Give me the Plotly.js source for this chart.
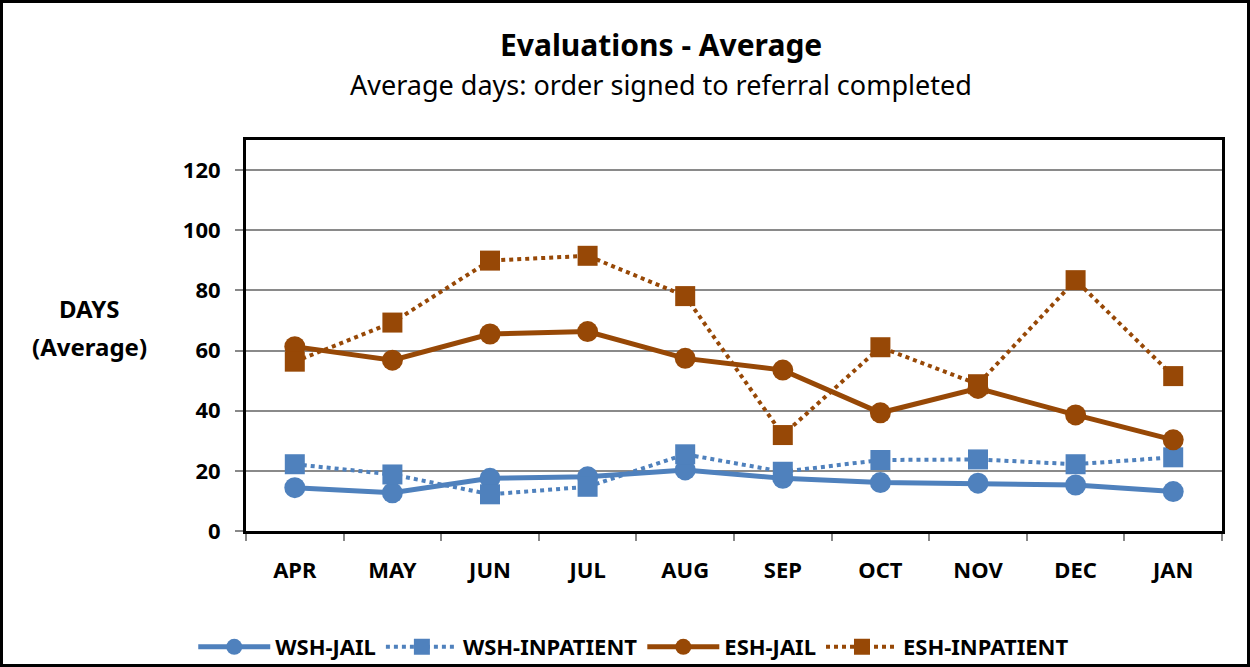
<!DOCTYPE html>
<html>
<head>
<meta charset="utf-8">
<script src="https://cdn.plot.ly/plotly-3.0.1.min.js"></script>
<style>
  html, body { margin: 0; padding: 0; background: #fff; }
  #wrap { position: relative; width: 1250px; height: 667px; }
  #chart { width: 1250px; height: 667px; }
  #frame { position: absolute; left: 0; top: 0; width: 1250px; height: 667px; box-sizing: border-box; border: 3px solid #000; pointer-events: none; }
</style>
</head>
<body>
<div id="wrap">
  <div id="chart"></div>
  <div id="frame"></div>
</div>
<script>
const months = ["APR", "MAY", "JUN", "JUL", "AUG", "SEP", "OCT", "NOV", "DEC", "JAN"];
const wshJail = [14.4, 12.7, 17.5, 18.0, 20.3, 17.5, 16.1, 15.9, 15.3, 13.1];
const wshInpatient = [22.2, 18.8, 12.2, 14.7, 25.5, 19.7, 23.6, 23.8, 22.2, 24.5];
const eshJail = [61.3, 56.8, 65.5, 66.3, 57.4, 53.5, 39.3, 47.4, 38.6, 30.3];
const eshInpatient = [56.3, 69.3, 89.9, 91.5, 78.1, 31.9, 61.1, 48.8, 83.4, 51.5];
const yTicks = [0, 20, 40, 60, 80, 100, 120];

const BLUE = "#4F81BD";
const BROWN = "#974806";
const FONT = "Noto Sans, Open Sans, sans-serif";

function trace(name, y, color, dash, symbol) {
  return {
    type: "scatter", mode: "lines+markers", name: name,
    x: months, y: y,
    line: { color: color, width: dash === "solid" ? 5 : 4, dash: dash },
    marker: { color: color, size: symbol === "circle" ? 21 : 20, symbol: symbol }
  };
}

const data = [
  trace("WSH-JAIL", wshJail, BLUE, "solid", "circle"),
  trace("WSH-INPATIENT", wshInpatient, BLUE, "dot", "square"),
  trace("ESH-JAIL", eshJail, BROWN, "solid", "circle"),
  trace("ESH-INPATIENT", eshInpatient, BROWN, "dot", "square")
];

const layout = {
  width: 1250, height: 667,
  margin: { l: 246, r: 28, t: 140, b: 136 },
  paper_bgcolor: "#fff", plot_bgcolor: "#fff",
  font: { family: FONT, color: "#000" },
  showlegend: true,
  legend: {
    orientation: "h", xref: "container", yref: "container",
    x: 0.507, xanchor: "center", y: 0.03, yanchor: "middle",
    font: { family: FONT, size: 22, color: "#000", weight: "bold" },
    itemwidth: 72, tracegroupgap: 0
  },
  xaxis: {
    type: "category", range: [-0.5, 9.5], automargin: false,
    showgrid: false, zeroline: false,
    showline: true, linecolor: "#000", linewidth: 3, mirror: true,
    ticks: "outside", tickson: "boundaries", ticklen: 7, tickwidth: 2, tickcolor: "#888",
    ticklabelstandoff: 18,
    tickfont: { family: FONT, size: 22, color: "#000", weight: "bold" }
  },
  yaxis: {
    range: [0, 130], tickvals: yTicks, automargin: false,
    showgrid: true, gridcolor: "#8a8a8a", gridwidth: 2, zeroline: false,
    showline: true, linecolor: "#000", linewidth: 3, mirror: true,
    ticks: "outside", ticklen: 8, tickwidth: 2, tickcolor: "#888",
    ticklabelstandoff: 10,
    tickfont: { family: FONT, size: 22, color: "#000", weight: "bold" }
  },
  annotations: [
    { text: "<b>Evaluations - Average</b>", xref: "paper", yref: "paper", x: 0.425, y: 1.243,
      xanchor: "center", yanchor: "middle", showarrow: false,
      font: { family: FONT, size: 30, color: "#000" } },
    { text: "Average days: order signed to referral completed", xref: "paper", yref: "paper", x: 0.425, y: 1.1407,
      xanchor: "center", yanchor: "middle", showarrow: false,
      font: { family: FONT, size: 27, color: "#000" } },
    { text: "<b>DAYS</b>", xref: "paper", yref: "paper", x: -0.16, y: 0.570,
      xanchor: "center", yanchor: "middle", showarrow: false,
      font: { family: FONT, size: 24, color: "#000" } },
    { text: "<b>(Average)</b>", xref: "paper", yref: "paper", x: -0.16, y: 0.4706,
      xanchor: "center", yanchor: "middle", showarrow: false,
      font: { family: FONT, size: 24, color: "#000" } }
  ]
};

Plotly.newPlot("chart", data, layout, { staticPlot: true, displayModeBar: false });
</script>
</body>
</html>
